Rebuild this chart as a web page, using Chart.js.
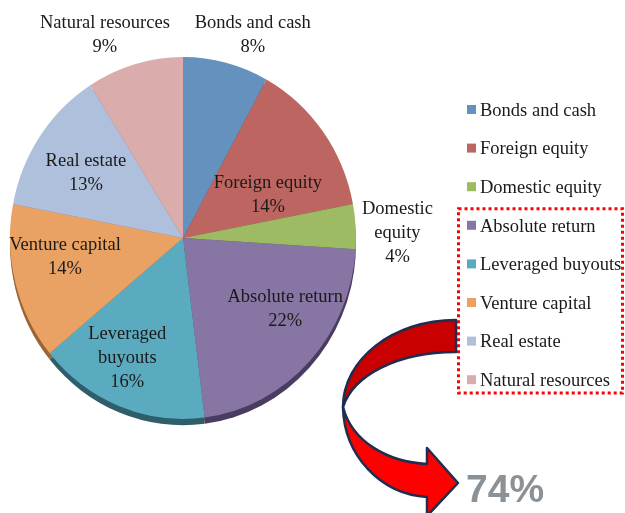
<!DOCTYPE html>
<html>
<head>
<meta charset="utf-8">
<script src="https://cdn.jsdelivr.net/npm/chart.js@4.4.1/dist/chart.umd.min.js"></script>
<style>
  html, body { margin: 0; padding: 0; background: #fff; }
  #wrap { position: relative; width: 625px; height: 513px; }
</style>
</head>
<body>
<div id="wrap"><canvas id="allocChart"></canvas></div>
<script>
// Data
const categories = ['Bonds and cash', 'Foreign equity', 'Domestic equity', 'Absolute return',
  'Leveraged buyouts', 'Venture capital', 'Real estate', 'Natural resources'];
const shares = [8, 14, 4, 22, 16, 14, 13, 9];
const labelLines = [['Bonds and cash'], ['Foreign equity'], ['Domestic', 'equity'], ['Absolute return'],
  ['Leveraged', 'buyouts'], ['Venture capital'], ['Real estate'], ['Natural resources']];
const highlightFrom = 3; // alternatives, boxed in the legend

// Styles
const sliceColors = ['#6591BE', '#BD6560', '#9CBB63', '#8775A3', '#5BABC0', '#E9A264', '#AFC0DC', '#DAADAC'];
const edgeColors = ['#3E5C7C', '#7C3D3A', '#5E7A3A', '#4A3B60', '#2F5E6A', '#9A6535', '#6F7E99', '#8F6E6D'];
// radius factor and angle shift (deg) for each slice label
const labelPlace = [[1.19, 5.4], [0.545, 10.2], [1.24, 2.3], [0.71, -9.5], [0.74, 4.2], [0.69, 5.6], [0.666, -1.6], [1.21, -5.7]];
const serif = "'Liberation Serif', 'Times New Roman', serif";
const tiltY = 1.046; // pie is drawn slightly taller than wide
const pieTop = 57;

const pieEdge = {
  id: 'pieEdge',
  beforeDatasetsDraw(chart) {
    const ctx = chart.ctx;
    const arcs = chart.getDatasetMeta(0).data;
    ctx.save();
    ctx.translate(0, pieTop);
    ctx.scale(1, tiltY);
    ctx.translate(0, -pieTop);
    arcs.forEach((arc, i) => {
      ctx.beginPath();
      ctx.moveTo(arc.x, arc.y + 6);
      ctx.arc(arc.x, arc.y + 6, arc.outerRadius, arc.startAngle, arc.endAngle);
      ctx.closePath();
      ctx.fillStyle = edgeColors[i];
      ctx.fill();
    });
  },
  afterDatasetsDraw(chart) {
    chart.ctx.restore();
  }
};

const sliceLabels = {
  id: 'sliceLabels',
  afterDatasetsDraw(chart) {
    const ctx = chart.ctx;
    const arcs = chart.getDatasetMeta(0).data;
    ctx.save();
    ctx.font = '18.5px ' + serif;
    ctx.fillStyle = '#1a1a1a';
    ctx.textAlign = 'center';
    ctx.textBaseline = 'middle';
    arcs.forEach((arc, i) => {
      const mid = (arc.startAngle + arc.endAngle) / 2 + labelPlace[i][1] * Math.PI / 180;
      const r = arc.outerRadius * labelPlace[i][0];
      const x = arc.x + r * Math.cos(mid);
      const y = pieTop + (arc.y + r * Math.sin(mid) - pieTop) * tiltY;
      const lines = labelLines[i].concat([shares[i] + '%']);
      const lh = 24;
      lines.forEach((t, k) => {
        ctx.fillText(t, x, y + (k - (lines.length - 1) / 2) * lh);
      });
    });
    ctx.restore();
  }
};

const sideLegend = {
  id: 'sideLegend',
  afterDraw(chart) {
    const ctx = chart.ctx;
    ctx.save();
    ctx.font = '18.5px ' + serif;
    ctx.textBaseline = 'middle';
    categories.forEach((c, i) => {
      const y = 110 + i * 38.6;
      ctx.fillStyle = sliceColors[i];
      ctx.fillRect(467, y - 5, 9, 9);
      ctx.fillStyle = '#1a1a1a';
      ctx.fillText(c, 480, y + 1);
    });

    // dotted box round the alternatives
    const top = 110 + highlightFrom * 38.6 - 17;
    ctx.strokeStyle = '#FF0000';
    ctx.lineWidth = 3;
    ctx.setLineDash([3, 3]);
    ctx.strokeRect(458.5, top, 164, 393 - top);
    ctx.setLineDash([]);

    // curved arrow
    ctx.lineJoin = 'round';
    ctx.strokeStyle = '#1F2D50';
    ctx.lineWidth = 2.5;
    ctx.beginPath();
    ctx.moveTo(456, 320);
    ctx.bezierCurveTo(392, 320, 343, 360, 343, 407);
    ctx.bezierCurveTo(353, 376, 396, 352, 456, 352);
    ctx.closePath();
    ctx.fillStyle = '#C80000';
    ctx.fill();
    ctx.stroke();

    ctx.beginPath();
    ctx.moveTo(343, 407);
    ctx.bezierCurveTo(344, 455, 380, 494, 427, 497);
    ctx.lineTo(427, 516);
    ctx.lineTo(458, 483);
    ctx.lineTo(427, 448);
    ctx.lineTo(427, 464);
    ctx.bezierCurveTo(388, 462, 352, 442, 343, 407);
    ctx.closePath();
    ctx.fillStyle = '#FF0000';
    ctx.fill();
    ctx.stroke();

    // share of the boxed group
    const total = shares.slice(highlightFrom).reduce((a, b) => a + b, 0);
    ctx.font = "bold 39px 'Liberation Sans', Arial, sans-serif";
    ctx.fillStyle = '#8B9297';
    ctx.textBaseline = 'alphabetic';
    ctx.fillText(total + '%', 466, 502);
    ctx.restore();
  }
};

const ctx = document.getElementById('allocChart').getContext('2d');
new Chart(ctx, {
  type: 'pie',
  data: {
    labels: categories,
    datasets: [{
      data: shares,
      backgroundColor: sliceColors,
      borderWidth: 0
    }]
  },
  options: {
    responsive: true,
    maintainAspectRatio: false,
    animation: false,
    layout: { padding: { left: 10, top: 57, right: 269, bottom: 110 } },
    plugins: {
      legend: { display: false },
      tooltip: { enabled: false }
    }
  },
  plugins: [pieEdge, sliceLabels, sideLegend]
});
</script>
</body>
</html>
